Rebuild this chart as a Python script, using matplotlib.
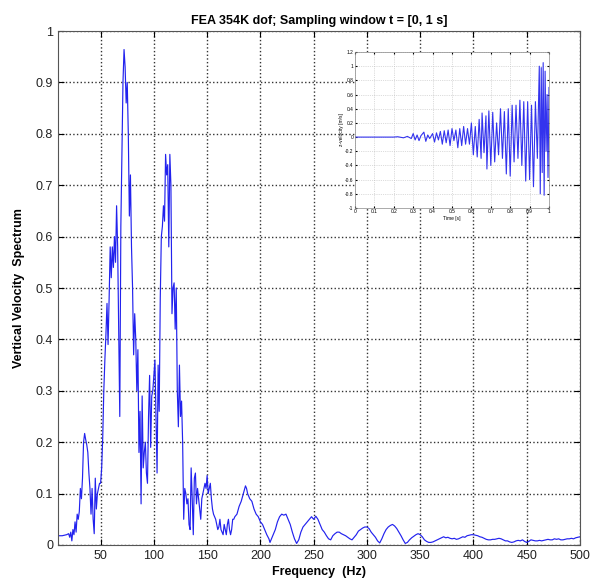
import matplotlib
matplotlib.use('Agg')
import matplotlib.pyplot as plt

plt.rcParams['font.family'] = ['Liberation Sans', 'DejaVu Sans']

# Spectrum data
freq = [10, 14, 18, 20, 21, 22, 23, 24, 25, 26, 27, 28, 29, 30, 31, 32, 33, 34, 35, 36,
        37, 38, 39, 40, 41, 42, 43, 44, 45, 46, 47, 48, 49, 50, 51, 52, 53, 54, 55, 56,
        57, 58, 59, 60, 61, 62, 63, 64, 65, 66, 67, 68, 69, 70, 71, 72, 73, 74, 75, 76,
        77, 78, 79, 80, 81, 82, 83, 84, 85, 86, 87, 88, 89, 90, 91, 92, 93, 94, 95, 96,
        97, 98, 99, 100, 101, 102, 103, 104, 105, 106, 107, 108, 109, 110, 111, 112, 113, 114, 115, 116,
        117, 118, 119, 120, 121, 122, 123, 124, 125, 126, 127, 128, 129, 130, 131, 132, 133, 134, 135, 136,
        137, 138, 139, 140, 141, 142, 143, 144, 145, 146, 147, 148, 149, 150, 151, 152, 153, 154, 155, 156,
        157, 158, 159, 160, 161, 162, 163, 164, 165, 166, 167, 168, 169, 170, 171, 172, 173, 174, 175, 176,
        178, 180, 182, 184, 186, 187, 188, 190, 192, 194, 196, 198, 200, 202, 204, 206, 208, 209, 210, 212,
        214, 216, 218, 220, 222, 224, 226, 228, 230, 232, 234, 236, 238, 240, 242, 244, 246, 248, 250, 252,
        254, 256, 258, 260, 262, 264, 266, 268, 270, 272, 274, 276, 278, 280, 282, 284, 286, 288, 290, 292,
        294, 296, 298, 300, 302, 304, 306, 308, 310, 312, 314, 316, 318, 320, 322, 324, 326, 328, 330, 332,
        334, 336, 338, 340, 342, 344, 346, 348, 350, 352, 354, 356, 358, 360, 362, 364, 366, 368, 370, 372,
        374, 376, 378, 380, 382, 384, 386, 388, 390, 392, 394, 396, 398, 400, 402, 404, 406, 408, 410, 412,
        414, 416, 418, 420, 422, 424, 426, 428, 430, 432, 434, 436, 438, 440, 442, 444, 446, 448, 450, 452,
        454, 456, 458, 460, 462, 464, 466, 468, 470, 472, 474, 476, 478, 480, 482, 484, 486, 488, 490, 492,
        494, 496, 498, 500]
spectrum = [0.018, 0.018, 0.02, 0.022, 0.015, 0.025, 0.008, 0.03, 0.02, 0.045, 0.025, 0.06, 0.05, 0.065, 0.11, 0.09, 0.13, 0.2, 0.217, 0.205,
            0.195, 0.18, 0.14, 0.11, 0.06, 0.11, 0.05, 0.022, 0.13, 0.07, 0.1, 0.11, 0.12, 0.12, 0.15, 0.21, 0.3, 0.36, 0.41, 0.47,
            0.39, 0.48, 0.58, 0.52, 0.58, 0.54, 0.6, 0.55, 0.66, 0.58, 0.42, 0.25, 0.62, 0.76, 0.9, 0.964, 0.93, 0.86, 0.9, 0.8,
            0.64, 0.72, 0.58, 0.5, 0.37, 0.45, 0.4, 0.3, 0.38, 0.18, 0.26, 0.08, 0.29, 0.15, 0.18, 0.2, 0.14, 0.12, 0.25, 0.33,
            0.19, 0.29, 0.3, 0.33, 0.36, 0.25, 0.14, 0.35, 0.26, 0.48, 0.6, 0.62, 0.66, 0.63, 0.76, 0.72, 0.74, 0.58, 0.76, 0.7,
            0.45, 0.5, 0.51, 0.42, 0.5, 0.3, 0.23, 0.35, 0.25, 0.28, 0.2, 0.05, 0.11, 0.1, 0.08, 0.09, 0.04, 0.03, 0.15, 0.09,
            0.02, 0.13, 0.14, 0.08, 0.11, 0.09, 0.07, 0.05, 0.09, 0.1, 0.11, 0.12, 0.11, 0.135, 0.1, 0.11, 0.12, 0.09, 0.07, 0.06,
            0.055, 0.05, 0.04, 0.03, 0.035, 0.05, 0.03, 0.025, 0.02, 0.04, 0.03, 0.02, 0.04, 0.05, 0.03, 0.02, 0.03, 0.05, 0.05, 0.055,
            0.06, 0.075, 0.085, 0.1, 0.115, 0.11, 0.1, 0.09, 0.085, 0.07, 0.06, 0.055, 0.045, 0.04, 0.03, 0.02, 0.012, 0.005, 0.01, 0.02,
            0.03, 0.045, 0.055, 0.06, 0.058, 0.06, 0.05, 0.04, 0.025, 0.012, 0.003, 0.01, 0.025, 0.035, 0.04, 0.045, 0.05, 0.055, 0.05, 0.056,
            0.05, 0.04, 0.03, 0.025, 0.018, 0.012, 0.01, 0.018, 0.022, 0.025, 0.025, 0.022, 0.02, 0.018, 0.015, 0.012, 0.01, 0.015, 0.02, 0.027,
            0.03, 0.033, 0.035, 0.035, 0.032, 0.025, 0.02, 0.015, 0.008, 0.004, 0.012, 0.022, 0.03, 0.035, 0.038, 0.04, 0.037, 0.032, 0.025, 0.018,
            0.01, 0.003, 0.005, 0.01, 0.014, 0.017, 0.02, 0.022, 0.02, 0.016, 0.01, 0.007, 0.005, 0.005, 0.006, 0.008, 0.01, 0.012, 0.014, 0.016,
            0.014, 0.015, 0.013, 0.012, 0.013, 0.011, 0.012, 0.014, 0.016, 0.015, 0.018, 0.019, 0.02, 0.02, 0.019, 0.018, 0.016, 0.015, 0.013, 0.011,
            0.01, 0.01, 0.011, 0.011, 0.012, 0.013, 0.012, 0.01, 0.008, 0.008, 0.006, 0.005, 0.006, 0.008, 0.009, 0.008, 0.01, 0.007, 0.005, 0.007,
            0.01, 0.009, 0.008, 0.008, 0.009, 0.008, 0.009, 0.01, 0.011, 0.01, 0.01, 0.012, 0.011, 0.012, 0.01, 0.01, 0.011, 0.012, 0.012, 0.013,
            0.012, 0.014, 0.015, 0.016]

# Inset time signal (z-velocity)
time = [0.0, 0.2, 0.22, 0.25, 0.27, 0.29, 0.3, 0.31, 0.32, 0.33, 0.34, 0.355, 0.365, 0.375, 0.385, 0.4, 0.41, 0.42, 0.43, 0.44,
        0.45, 0.46, 0.47, 0.48, 0.49, 0.5, 0.51, 0.52, 0.53, 0.54, 0.55, 0.56, 0.57, 0.58, 0.59, 0.6, 0.61, 0.62, 0.63, 0.64,
        0.65, 0.655, 0.665, 0.675, 0.68, 0.69, 0.7, 0.71, 0.72, 0.73, 0.74, 0.75, 0.76, 0.77, 0.78, 0.79, 0.8, 0.81, 0.82, 0.83,
        0.84, 0.85, 0.86, 0.87, 0.88, 0.89, 0.9, 0.91, 0.92, 0.93, 0.94, 0.95, 0.955, 0.96, 0.965, 0.97, 0.975, 0.98, 0.985, 0.99,
        0.995, 1.0]
zvel = [0.0, 0.0, 0.005, -0.01, 0.01, -0.02, 0.05, -0.04, 0.03, -0.05, 0.02, 0.07, -0.06, 0.03, -0.02, 0.05, -0.07, 0.06, -0.04, 0.08,
        -0.1, 0.09, -0.08, 0.1, -0.12, 0.12, -0.05, 0.1, -0.15, 0.12, -0.12, 0.15, -0.1, 0.12, -0.1, 0.2, -0.25, 0.15, -0.28, 0.25,
        -0.3, 0.34, -0.22, 0.3, -0.45, 0.37, -0.4, 0.35, -0.35, 0.2, -0.25, 0.4, -0.3, 0.36, -0.52, 0.4, -0.55, 0.45, -0.35, 0.45,
        -0.3, 0.52, -0.4, 0.5, -0.62, 0.5, -0.6, 0.45, -0.7, 0.5, -0.3, 1.0, -0.8, 0.98, -0.5, 1.05, -0.82, 0.93, -0.2, 0.6,
        -0.57, 0.7]

fig = plt.figure(figsize=(5.9, 5.83), dpi=100)
ax = fig.add_axes([0.0983, 0.0652, 0.8847, 0.8816])
ax.plot(freq, spectrum, color='#2222ee', linewidth=0.85)
ax.set_xlim(10, 500)
ax.set_ylim(0, 1)
ax.set_xticks([50, 100, 150, 200, 250, 300, 350, 400, 450, 500])
ax.set_yticks([0, 0.1, 0.2, 0.3, 0.4, 0.5, 0.6, 0.7, 0.8, 0.9, 1])
ax.set_yticklabels(['0', '0.1', '0.2', '0.3', '0.4', '0.5', '0.6', '0.7', '0.8', '0.9', '1'])
ax.grid(True, color='#333333', linestyle=':', linewidth=1.0)
ax.tick_params(direction='in', top=True, right=True, labelsize=9, length=4,
               labelcolor='#222222')
for s in ax.spines.values():
    s.set_color('#555555')
ax.set_title('FEA 354K dof; Sampling window t = [0, 1 s]', fontsize=9, fontweight='bold', pad=5)
ax.set_xlabel('Frequency  (Hz)', fontsize=9, fontweight='bold', labelpad=3)
ax.set_ylabel('Vertical Velocity  Spectrum', fontsize=9, fontweight='bold', labelpad=8)

# inset
ins = fig.add_axes([0.6017, 0.6432, 0.3288, 0.2676])
ins.plot(time, zvel, color='#3333ee', linewidth=0.8)
ins.set_xlim(0, 1)
ins.set_ylim(-1, 1.2)
ins.set_xticks([0, 0.1, 0.2, 0.3, 0.4, 0.5, 0.6, 0.7, 0.8, 0.9, 1])
ins.set_xticklabels(['0', '0.1', '0.2', '0.3', '0.4', '0.5', '0.6', '0.7', '0.8', '0.9', '1'])
ins.set_yticks([-1, -0.8, -0.6, -0.4, -0.2, 0, 0.2, 0.4, 0.6, 0.8, 1, 1.2])
ins.set_yticklabels(['-1', '-0.8', '-0.6', '-0.4', '-0.2', '0', '0.2', '0.4', '0.6', '0.8', '1', '1.2'])
ins.grid(True, color='#bbbbbb', linestyle=':', linewidth=0.5)
ins.tick_params(direction='in', top=True, right=True, labelsize=3.5, length=1.5, pad=1)
for s in ins.spines.values():
    s.set_color('#888888')
    s.set_linewidth(0.5)
ins.set_xlabel('Time [s]', fontsize=3.5, labelpad=1)
ins.set_ylabel('z-velocity [m/s]', fontsize=3.5, labelpad=1)

fig.savefig('out.png', dpi=100)
